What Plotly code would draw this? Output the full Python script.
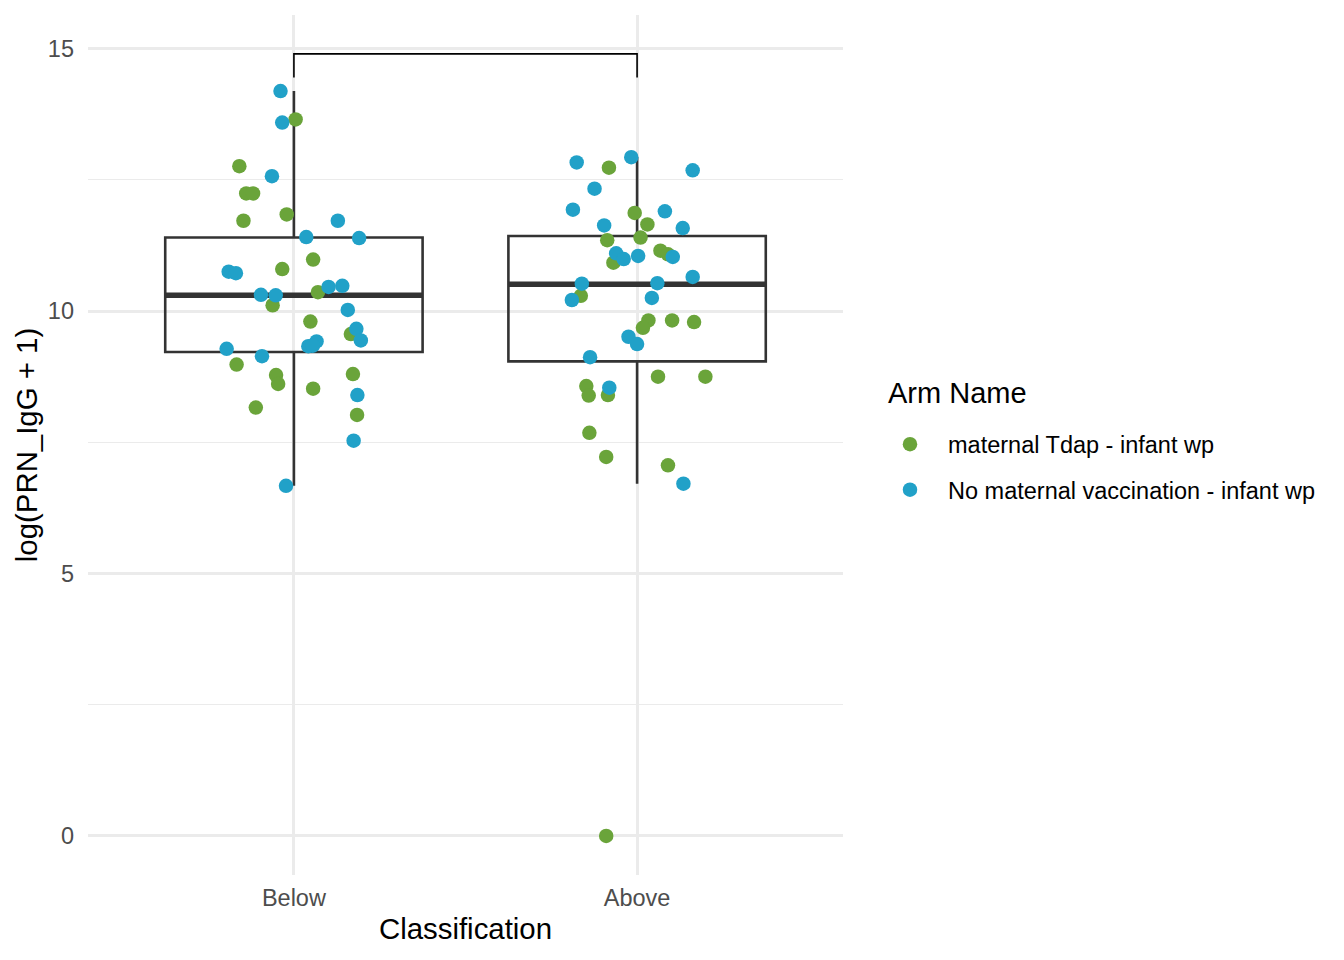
import numpy as np
import plotly.graph_objects as go

categories = ['Below', 'Above']
arms = ['maternal Tdap - infant wp', 'No maternal vaccination - infant wp']
arm_colors = ['#6AA43A', '#21A1C8']

# log(PRN_IgG + 1) for each subject, and its horizontal jitter (in category widths)
below_tdap_y = [13.65, 12.76, 12.24, 12.24, 11.72, 11.84, 10.98, 10.80, 10.36, 10.11,
                9.80, 9.56, 8.98, 8.78, 8.61, 8.80, 8.52, 8.16, 8.02]
below_tdap_jit = [0.005, -0.159, -0.139, -0.119, -0.147, -0.021, 0.056, -0.034, 0.070, -0.062,
                  0.048, 0.166, -0.167, -0.052, -0.046, 0.172, 0.056, -0.111, 0.184]
below_none_y = [14.19, 13.59, 12.57, 11.72, 11.41, 11.39, 10.75, 10.72, 10.46, 10.48,
                10.31, 10.30, 10.02, 9.66, 9.44, 9.33, 9.42, 9.34, 9.28, 9.14,
                8.40, 7.53, 6.67]
below_none_jit = [-0.039, -0.034, -0.064, 0.128, 0.036, 0.190, -0.190, -0.169, 0.101, 0.141,
                  -0.096, -0.053, 0.157, 0.182, 0.195, 0.042, 0.066, 0.055, -0.196, -0.093,
                  0.185, 0.174, -0.023]
above_tdap_y = [12.73, 11.87, 11.65, 11.35, 11.40, 10.92, 11.15, 11.08, 10.29, 9.82,
                9.82, 9.79, 9.68, 8.75, 8.75, 8.57, 8.39, 8.40, 7.68, 7.22,
                7.06, 0.0]
above_tdap_jit = [-0.082, -0.007, 0.030, -0.087, 0.010, -0.069, 0.068, 0.090, -0.164, 0.033,
                  0.102, 0.166, 0.017, 0.061, 0.199, -0.148, -0.141, -0.085, -0.139, -0.090,
                  0.090, -0.090]
above_none_y = [12.83, 12.93, 12.68, 12.33, 11.93, 11.90, 11.63, 11.58, 11.10, 10.99,
                11.05, 11.03, 10.65, 10.52, 10.53, 10.21, 10.25, 9.51, 9.37, 9.12,
                8.54, 6.71]
above_none_jit = [-0.176, -0.017, 0.162, -0.124, -0.187, 0.081, -0.096, 0.133, -0.061, -0.039,
                  0.003, 0.104, 0.162, -0.161, 0.059, -0.190, 0.043, -0.025, 0.000, -0.137,
                  -0.081, 0.135]

# boxplot statistics per category (Below, Above)
box_q1 = [9.22, 9.04]
box_median = [10.30, 10.51]
box_q3 = [11.40, 11.43]
box_lower = [6.67, 6.71]
box_upper = [14.19, 12.93]

# comparison bracket between the two groups
bracket_top = 14.9
bracket_tip = 14.45

font = 'Liberation Sans, Arial, sans-serif'
box_width = 0.75
xpos = np.arange(1, len(categories) + 1)

fig = go.Figure()

fig.add_trace(go.Box(x=xpos, q1=box_q1, median=box_median, q3=box_q3,
                     lowerfence=box_lower, upperfence=box_upper,
                     width=box_width, whiskerwidth=0, boxpoints=False,
                     line=dict(color='#333333', width=2.6),
                     fillcolor='rgba(0,0,0,0)', showlegend=False, hoverinfo='skip'))

# thicker median bars like ggplot
for xc, m in zip(xpos, box_median):
    fig.add_trace(go.Scatter(x=[xc - box_width / 2, xc + box_width / 2], y=[m, m], mode='lines',
                             line=dict(color='#333333', width=5.5),
                             showlegend=False, hoverinfo='skip'))

points = [
    (below_tdap_y, below_tdap_jit, above_tdap_y, above_tdap_jit),
    (below_none_y, below_none_jit, above_none_y, above_none_jit),
]
for i, (by, bj, ay, aj) in enumerate(points):
    x = np.concatenate([xpos[0] + np.array(bj), xpos[1] + np.array(aj)])
    y = np.concatenate([by, ay])
    fig.add_trace(go.Scatter(x=x, y=y, mode='markers', name=arms[i], legendgroup=arms[i],
                             marker=dict(color=arm_colors[i], size=14.5, line=dict(width=0))))

fig.add_trace(go.Scatter(x=[xpos[0], xpos[0], xpos[1], xpos[1]],
                         y=[bracket_tip, bracket_top, bracket_top, bracket_tip],
                         mode='lines', line=dict(color='black', width=1.6),
                         showlegend=False, hoverinfo='skip'))

fig.update_layout(
    width=1328, height=944,
    margin=dict(l=80, r=493, t=7, b=77),
    plot_bgcolor='white', paper_bgcolor='white',
    font=dict(family=font, color='black'),
    legend=dict(font=dict(size=23.5), itemwidth=66,
                x=1.0384, y=0.474, yanchor='middle', tracegroupgap=12),
    annotations=[dict(text='Arm Name', xref='paper', yref='paper', x=1.057, y=0.5605,
                      xanchor='left', yanchor='middle', showarrow=False,
                      font=dict(size=29))],
)
fig.update_xaxes(range=[0.4, 2.6], tickvals=xpos, ticktext=categories,
                 showgrid=True, gridcolor='#EBEBEB', gridwidth=2.5, zeroline=False,
                 tickfont=dict(size=23.5, color='#4D4D4D'), ticklabelstandoff=6,
                 title=dict(text='Classification', font=dict(size=29.4), standoff=8))
fig.update_yaxes(range=[-0.745, 15.64], tickvals=[0, 5, 10, 15],
                 showgrid=True, gridcolor='#EBEBEB', gridwidth=2.5, zeroline=False,
                 minor=dict(dtick=2.5, showgrid=True, gridcolor='#EBEBEB', gridwidth=1.2),
                 tickfont=dict(size=23.5, color='#4D4D4D'), ticklabelstandoff=13,
                 title=dict(text='log(PRN_IgG + 1)', font=dict(size=29.4), standoff=1))

fig.write_html('out.html')
